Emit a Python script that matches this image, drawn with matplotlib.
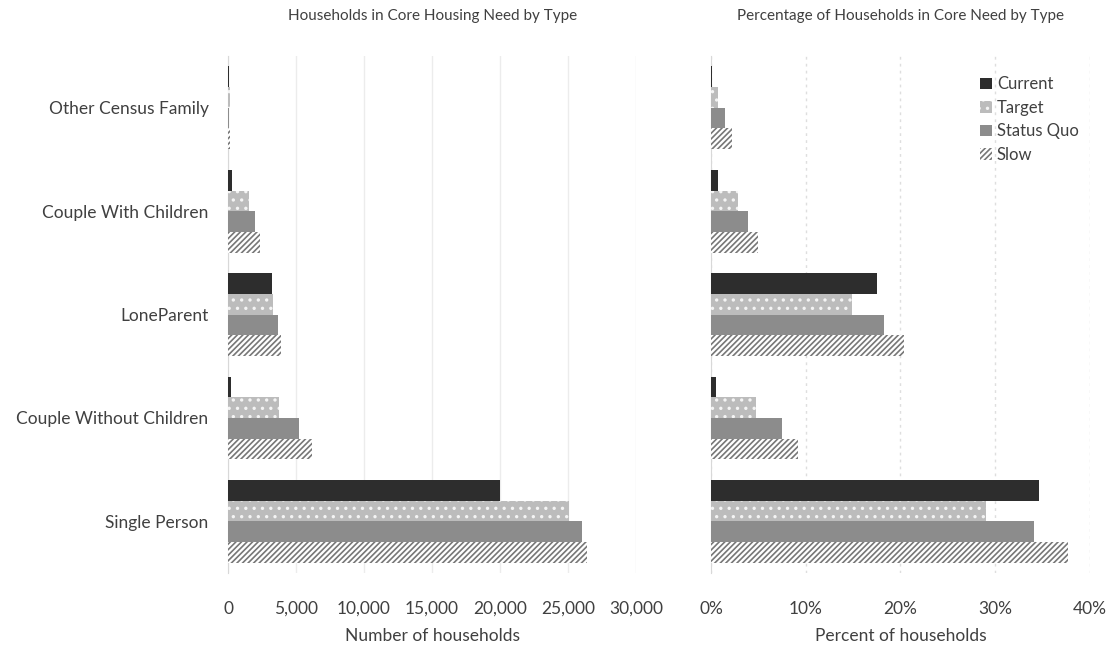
import matplotlib
matplotlib.use("Agg")
import matplotlib.pyplot as plt
import matplotlib.ticker as mticker
import numpy as np

categories = ["Other Census Family", "Couple With Children", "LoneParent",
              "Couple Without Children", "Single Person"]
series = ["Current", "Target", "Status Quo", "Slow"]

# households in core need, by scenario
counts = {
    "Current":    [60, 300, 3200, 250, 20000],
    "Target":     [150, 1550, 3300, 3750, 25100],
    "Status Quo": [100, 2000, 3700, 5200, 26000],
    "Slow":       [150, 2350, 3900, 6200, 26400],
}
# share of households in core need (%)
percents = {
    "Current":    [0.1, 0.7, 17.5, 0.5, 34.6],
    "Target":     [0.7, 2.9, 14.9, 4.8, 29.0],
    "Status Quo": [1.5, 3.9, 18.3, 7.5, 34.1],
    "Slow":       [2.2, 5.0, 20.4, 9.2, 37.7],
}

count_ticks = [0, 5000, 10000, 15000, 20000, 25000, 30000]
pct_ticks = [0, 10, 20, 30, 40]

styles = {
    "Current":    dict(color="#2d2d2d", edgecolor="#2d2d2d", hatch=None),
    "Target":     dict(color="#bcbcbc", edgecolor="#f4f4f4", hatch=".."),
    "Status Quo": dict(color="#8c8c8c", edgecolor="#8c8c8c", hatch=None),
    "Slow":       dict(color="white", edgecolor="#777777", hatch="//////"),
}

plt.rcParams["font.family"] = ["Lato", "DejaVu Sans"]
plt.rcParams["hatch.linewidth"] = 1.2
txt = "#404040"

fig = plt.figure(figsize=(11.13, 6.52), dpi=100)
ax1 = fig.add_axes([0.2049, 0.121, 0.3666, 0.793])
ax2 = fig.add_axes([0.6388, 0.121, 0.3405, 0.793])

y = np.arange(len(categories))
h = 0.2
offsets = [-1.5 * h, -0.5 * h, 0.5 * h, 1.5 * h]


def draw(ax, data):
    for off, name in zip(offsets, series):
        st = styles[name]
        ax.barh(y + off, data[name], height=h, color=st["color"],
                edgecolor=st["edgecolor"], hatch=st["hatch"], linewidth=0,
                label=name, zorder=3)
    ax.set_ylim(-0.5, len(categories) - 0.5)
    ax.invert_yaxis()
    for s in ["top", "right", "bottom"]:
        ax.spines[s].set_visible(False)
    ax.spines["left"].set_color("#d8d8d8")
    ax.tick_params(axis="both", length=0, colors=txt, labelsize=12.5)
    ax.tick_params(axis="x", pad=20)


draw(ax1, counts)
ax1.set_xlim(0, 30000)
ax1.set_xticks(count_ticks)
ax1.xaxis.set_major_formatter(mticker.FuncFormatter(lambda v, p: f"{int(v):,}"))
ax1.set_yticks(y)
ax1.set_yticklabels(categories, fontsize=12.5)
ax1.tick_params(axis="y", pad=14)
ax1.grid(axis="x", color="#ececec", linewidth=1, zorder=0)
ax1.set_xlabel("Number of households", fontsize=12.5, color=txt, labelpad=8)
ax1.set_title("Households in Core Housing Need by Type", fontsize=11,
              color=txt, pad=26)

draw(ax2, percents)
ax2.set_xlim(0, 40)
ax2.set_xticks(pct_ticks)
ax2.xaxis.set_major_formatter(mticker.FuncFormatter(lambda v, p: f"{int(v)}%"))
ax2.set_yticks([])
ax2.grid(axis="x", color="#dedede", linewidth=1, linestyle=(0, (2, 3)), zorder=0)
ax2.set_xlabel("Percent of households", fontsize=12.5, color=txt, labelpad=8)
ax2.set_title("Percentage of Households in Core Need by Type", fontsize=11,
              color=txt, pad=26)

leg = ax2.legend(loc="upper right", bbox_to_anchor=(1.01, 0.99), frameon=False,
                 fontsize=12, handlelength=0.7, handleheight=0.7,
                 handletextpad=0.3, labelspacing=0.45, labelcolor=txt)

fig.savefig("out.png", dpi=100, facecolor="white")
